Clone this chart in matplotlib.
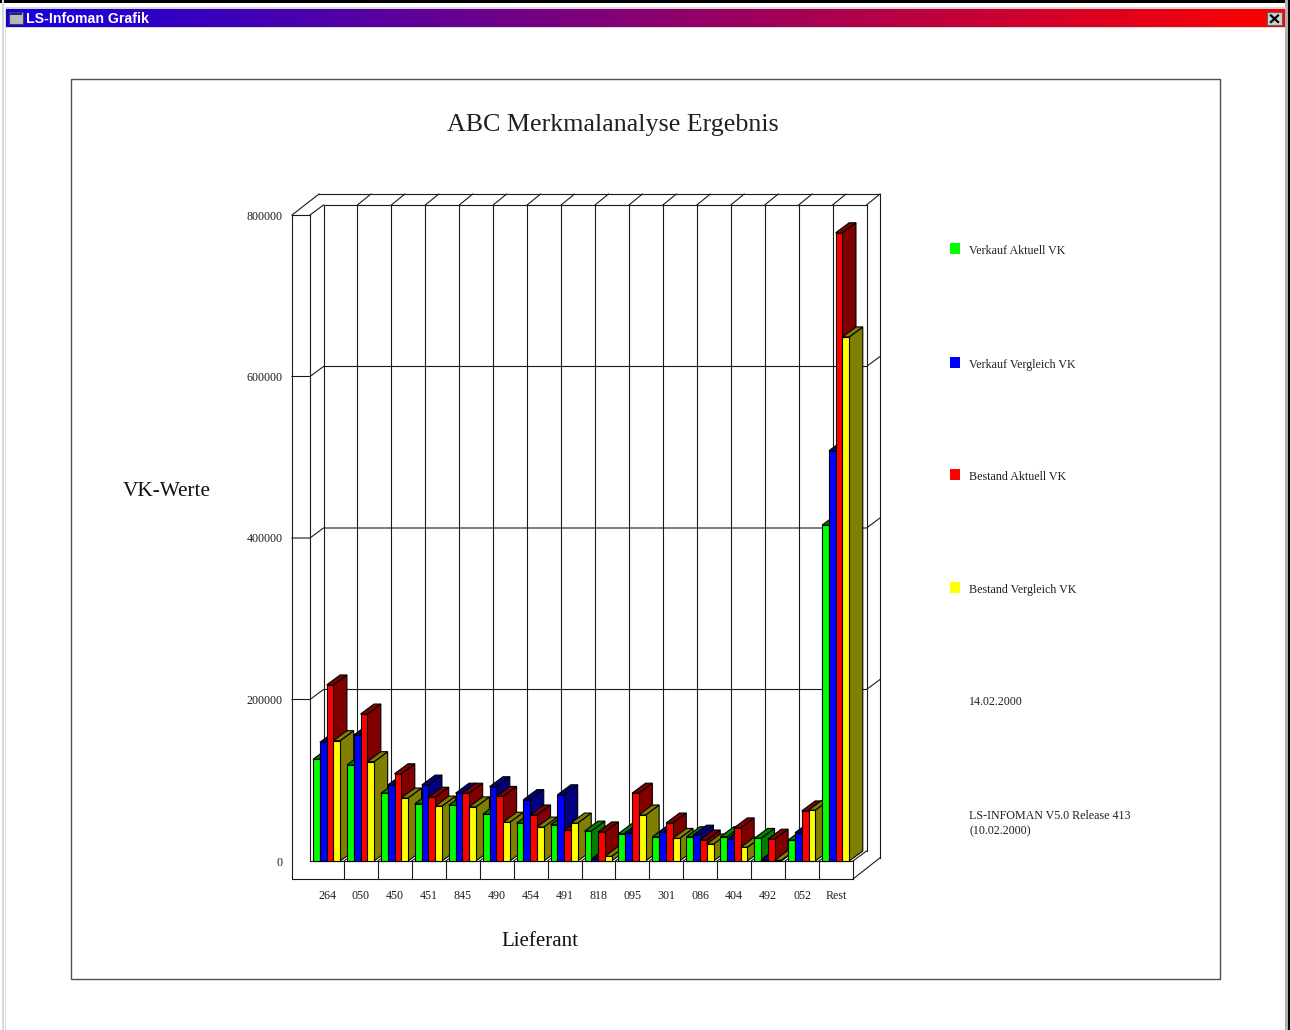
import numpy as np
import matplotlib
matplotlib.use("Agg")
import matplotlib.pyplot as plt
from matplotlib.patches import Rectangle

plt.rcParams['font.family'] = ['Liberation Serif', 'DejaVu Serif']

# data
lieferant = ['264', '050', '450', '451', '845', '490', '454', '491',
             '818', '095', '301', '086', '404', '492', '052', 'Rest']
verkauf_aktuell = [126000, 119000, 84000, 71000, 69000, 58000, 47000, 45000,
                   37000, 34000, 30000, 30000, 30000, 28000, 26000, 416000]
verkauf_vergleich = [147000, 156000, 94000, 94000, 84000, 92000, 76000, 82000,
                     2500, 35000, 36000, 32000, 27000, 1600, 35000, 508000]
bestand_aktuell = [218000, 182000, 108000, 79000, 84000, 80000, 57000, 38000,
                   36000, 84000, 47000, 26000, 41000, 27000, 62000, 778000]
bestand_vergleich = [149000, 123000, 78000, 68000, 67000, 48000, 42000, 47000,
                     5800, 57000, 28000, 21000, 17000, 900, 63000, 649000]
series_names = ['Verkauf Aktuell VK', 'Verkauf Vergleich VK',
                'Bestand Aktuell VK', 'Bestand Vergleich VK']
y_ticks = [0, 200000, 400000, 600000, 800000]

series = [verkauf_aktuell, verkauf_vergleich, bestand_aktuell, bestand_vergleich]
front_cols = ['#00ff00', '#0000ff', '#ff0000', '#ffff00']
dark_cols = ['#008000', '#000080', '#800000', '#808000']

W, H = 1290, 1030
fig = plt.figure(figsize=(W / 100, H / 100), dpi=100, facecolor='white')

# layer in pixel coordinates for the window frame and free text
bg = fig.add_axes([0, 0, 1, 1], zorder=0)
bg.axis('off')

# title bar
grad = np.zeros((1, 256, 3))
grad[0, :, 0] = np.linspace(0.08, 1, 256)
grad[0, :, 2] = np.linspace(0.88, 0, 256)
bg.imshow(grad, extent=[6, 1285, 27, 9], aspect='auto', zorder=1)
bg.set_xlim(0, W)
bg.set_ylim(H, 0)
bg.add_patch(Rectangle((0, 0), W, 2.5, fc='black', ec='none', zorder=2))
bg.add_patch(Rectangle((1285, 0), 3, H, fc='#b0b0b0', ec='none', zorder=2))
bg.add_patch(Rectangle((1288, 0), 2, H, fc='black', ec='none', zorder=2))
bg.add_patch(Rectangle((2, 0), 1.5, H, fc='#d8d8d8', ec='none', zorder=2))
bg.add_patch(Rectangle((5, 7), 1.2, H, fc='#d8d8d8', ec='none', zorder=2))
bg.add_patch(Rectangle((5, 7), 1281, 2, fc='#d8d8d8', ec='none', zorder=2))
bg.add_patch(Rectangle((6, 27), 1279, 1.2, fc='#d8d8d8', ec='none', zorder=2))

# window icon
bg.add_patch(Rectangle((9, 12), 13.5, 11.5, fc='#b8b8b8', ec='#404040', lw=0.8, zorder=3))
bg.add_patch(Rectangle((10, 13), 11.5, 2, fc='#2020a0', ec='none', zorder=4))
bg.text(26, 19, 'LS-Infoman Grafik', color='white', fontsize=10.2, weight='bold',
        family=['Liberation Sans', 'DejaVu Sans'], va='center', ha='left', zorder=4)

# close button
bg.add_patch(Rectangle((1267, 12), 15, 13, fc='#d0d0d0', ec='#606060', lw=0.8, zorder=3))
bg.plot([1271, 1278], [15.5, 22], color='black', lw=1.6, zorder=4)
bg.plot([1278, 1271], [15.5, 22], color='black', lw=1.6, zorder=4)

# outer chart frame
bg.add_patch(Rectangle((71, 79), 1149, 900, fc='none', ec='#505050', lw=1.0, zorder=2))

bg.text(612.5, 125, 'ABC Merkmalanalyse Ergebnis', fontsize=18.7, ha='center', va='center',
        color='#202020')
bg.text(167, 491, 'VK-Werte', fontsize=15.3, ha='center', va='center', color='#101010')
bg.text(540, 941, 'Lieferant', fontsize=15, ha='center', va='center', color='#101010')

# legend is free text and squares here, as in the picture
legend_y = [249, 363, 475, 588]
for name, col, yy in zip(series_names, front_cols, legend_y):
    bg.add_patch(Rectangle((950, yy - 6), 10, 11, fc=col, ec='none', zorder=3))
    bg.text(969, yy + 2, name, fontsize=8.65, va='center', ha='left', color='#202020')
bg.text(969, 702, '14.02.2000', fontsize=8.65, va='center', ha='left', color='#202020')
bg.text(969, 816, 'LS-INFOMAN V5.0 Release 413', fontsize=8.65, va='center', ha='left',
        color='#202020')
bg.text(969, 831, '(10.02.2000)', fontsize=8.65, va='center', ha='left', color='#202020')

# chart axes sit on the front plane of the bars
left, right, bottom, top = 310, 853, 861, 215
ax = fig.add_axes([left / W, 1 - bottom / H, (right - left) / W, (bottom - top) / H], zorder=1)
ax.patch.set_alpha(0)
n = len(lieferant)
ax.set_xlim(0, n)
ax.set_ylim(0, 800000)
for s in ax.spines.values():
    s.set_visible(False)

cat_px = (right - left) / n
val_px = 800000 / (bottom - top)
dx = 13.5 / cat_px       # depth of bars, x
dy = 10 * val_px         # depth of bars, y
wall_x = 18 / cat_px     # width of left wall / floor strip
wall_y = 18 * val_px
top_y = 800000 + 21 * val_px
line = dict(color='#1a1a1a', lw=0.8, clip_on=False, zorder=1, solid_capstyle='projecting')

# left wall, floor strip and back planes
ax.plot([-wall_x, -wall_x], [-wall_y, 800000], **line)
ax.plot([0, 0], [0, 800000], **line)
ax.plot([-wall_x, n], [-wall_y, -wall_y], **line)
ax.plot([0, n], [0, 0], **line)
ax.plot([n, n], [-wall_y, 0], **line)
ax.plot([n, n + 2 * dx], [-wall_y, 3.2 * val_px], **line)
ax.plot([n, n + dx], [0, dy], **line)
ax.plot([n + dx, n + dx], [dy, 800000 + dy], **line)
ax.plot([n + 2 * dx, n + 2 * dx], [3.2 * val_px, top_y], **line)
ax.plot([-wall_x, 9 / cat_px], [800000, top_y], **line)
ax.plot([9 / cat_px, n + 2 * dx], [top_y, top_y], **line)
ax.plot([-wall_x, 0], [800000, 800000], **line)
ax.plot([0, dx], [800000, 800000 + dy], **line)
ax.plot([dx, n + dx], [800000 + dy, 800000 + dy], **line)

for v in y_ticks[1:-1]:
    ax.plot([-wall_x, 0, dx, n + dx, n + 2 * dx],
            [v, v, v + dy, v + dy, v + 2 * dy], **line)

for i in range(n):
    ax.plot([i + dx, i + dx], [dy, 800000 + dy], **line)
    if i > 0:
        ax.plot([i, i], [-wall_y, 0], **line)
        ax.plot([i, i + dx], [0, dy], **line)
        ax.plot([i + dx, i + 2 * dx], [800000 + dy, top_y], **line)
ax.plot([n + dx, n + 2 * dx], [800000 + dy, top_y], **line)

# bars, back to front: left to right, then series order
bar_w = 0.2
bar_off = 0.09
edge = dict(edgecolor='black', linewidth=0.8)
z = 5
for i in range(n):
    for j, vals in enumerate(series):
        x0 = i + bar_off + j * bar_w
        v = vals[i]
        x1 = x0 + bar_w
        ax.fill([x1, x1 + dx, x1 + dx, x1], [0, dy, v + dy, v], fc=dark_cols[j],
                clip_on=False, zorder=z, **edge)
        ax.fill([x0, x0 + dx, x1 + dx, x1], [v, v + dy, v + dy, v], fc=dark_cols[j],
                clip_on=False, zorder=z, **edge)
        ax.bar(x0, v, width=bar_w, align='edge', color=front_cols[j],
               clip_on=False, zorder=z + 0.5, **edge)
        z += 1

ax.set_xticks(np.arange(n) + 0.5)
ax.set_xticklabels(lieferant, fontsize=8.65, color='#202020')
ax.set_yticks(y_ticks)
ax.set_yticklabels([str(v) for v in y_ticks], fontsize=8.65, color='#202020')
ax.tick_params(axis='x', length=0, pad=21)
ax.tick_params(axis='y', length=0, pad=19.5)

fig.savefig('out.png', dpi=100, facecolor='white')
